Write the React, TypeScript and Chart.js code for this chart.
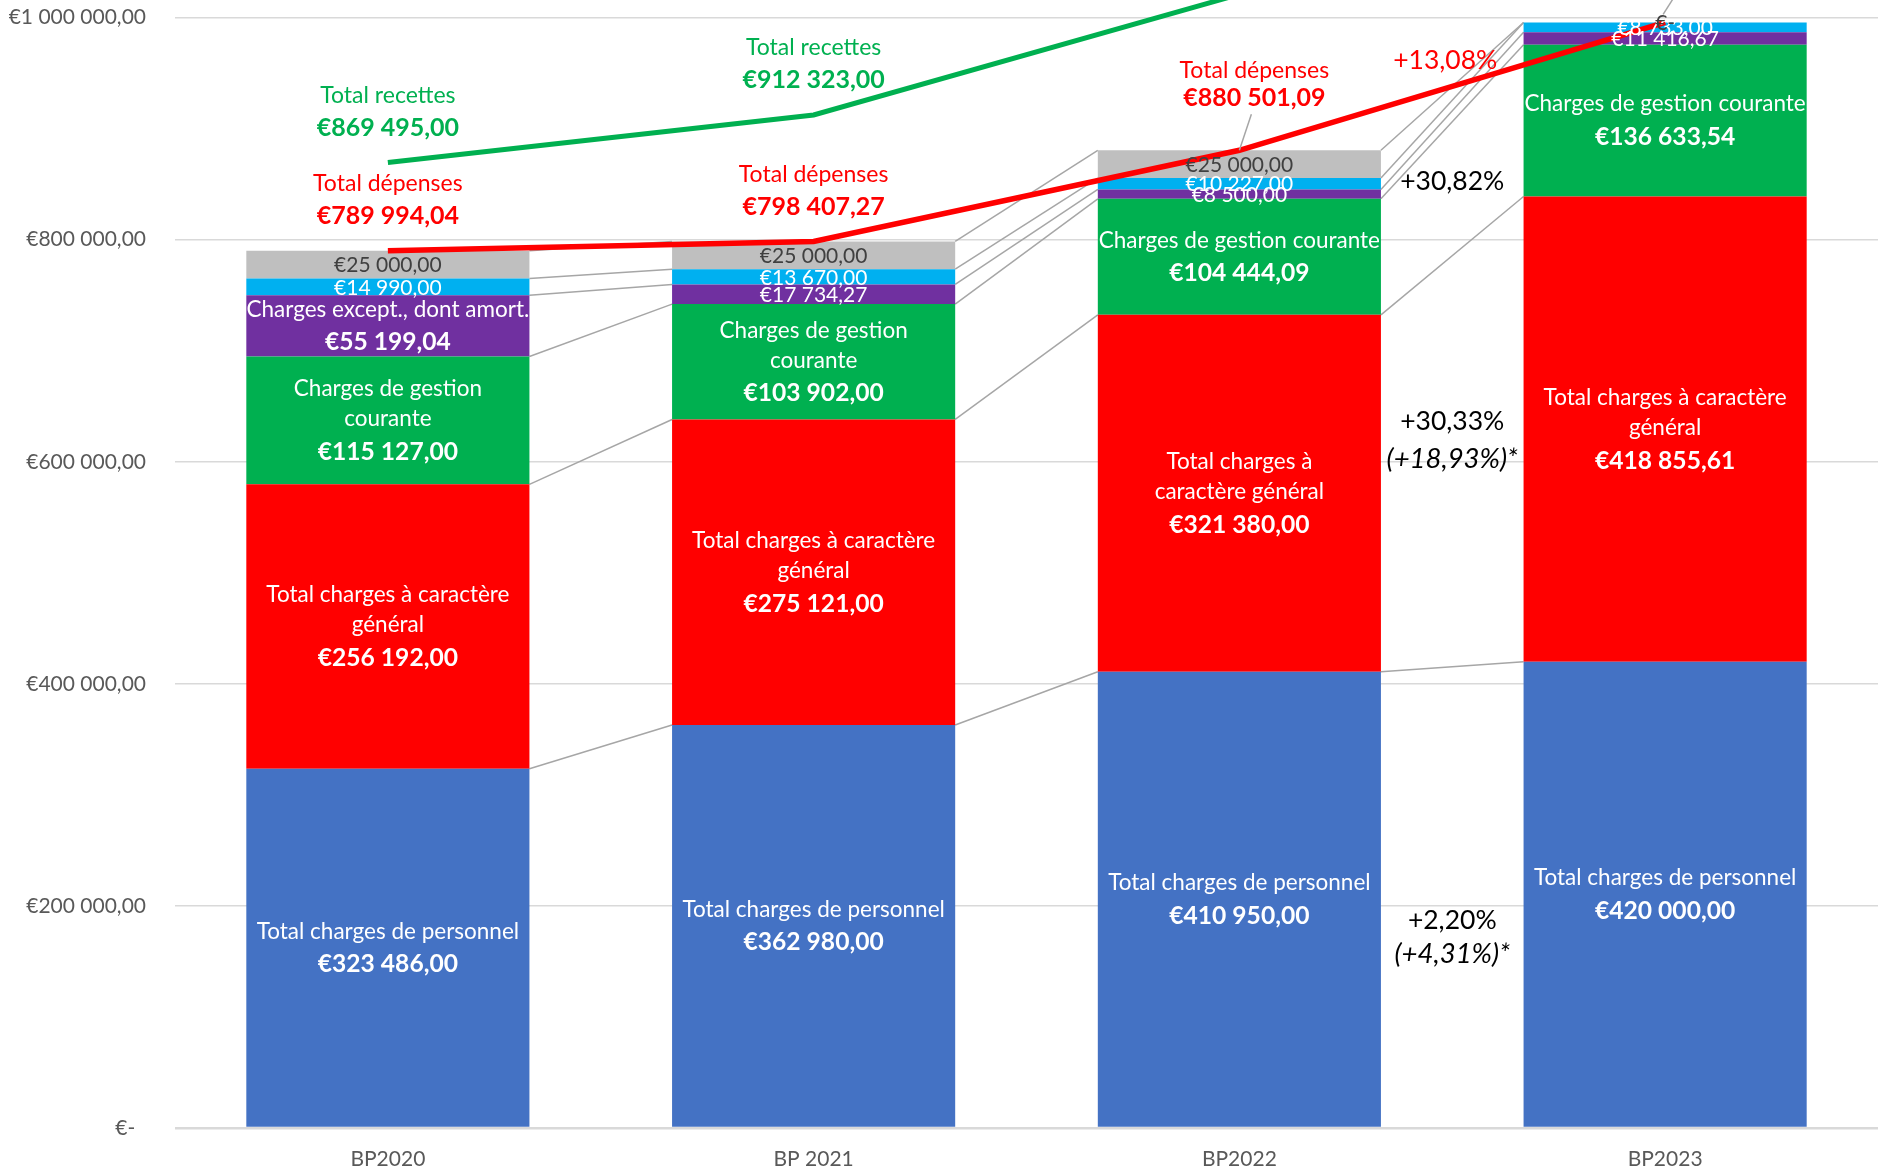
import React, { useEffect, useRef } from "react";
import { Chart, registerables } from "chart.js";

Chart.register(...registerables);

// ---------- DATA ----------
const categories = ["BP2020", "BP 2021", "BP2022", "BP2023"];

const chargesPersonnel = [323486.0, 362980.0, 410950.0, 420000.0];
const chargesCaractereGeneral = [256192.0, 275121.0, 321380.0, 418855.61];
const chargesGestionCourante = [115127.0, 103902.0, 104444.09, 136633.54];
const chargesExceptionnelles = [55199.04, 17734.27, 8500.0, 11416.67];
const autresCharges = [14990.0, 13670.0, 10227.0, 8733.0];
const reserves = [25000.0, 25000.0, 25000.0, 0];

const totalRecettes = [869495.0, 912323.0, 1021000.0, null];
const totalDepenses = [789994.04, 798407.27, 880501.09, 995638.82];

const yTickValues = [0, 200000, 400000, 600000, 800000, 1000000];

const personnelNames = [
  ["Total charges de personnel"],
  ["Total charges de personnel"],
  ["Total charges de personnel"],
  ["Total charges de personnel"],
];
const generalNames = [
  ["Total charges à caractère", "général"],
  ["Total charges à caractère", "général"],
  ["Total charges à", "caractère général"],
  ["Total charges à caractère", "général"],
];
const gestionNames = [
  ["Charges de gestion", "courante"],
  ["Charges de gestion", "courante"],
  ["Charges de gestion courante"],
  ["Charges de gestion courante"],
];
const exceptNames = [["Charges except., dont amort."], [], [], []];
const noNames = [[], [], [], []];

const recettesLabel = "Total recettes";
const depensesLabel = "Total dépenses";

const evolutionNotes = [
  { lines: ["+13,08%"], color: "#FF0000" },
  { lines: ["+30,82%"], color: "#000000" },
  { lines: ["+30,33%", "(+18,93%)*"], color: "#000000" },
  { lines: ["+2,20%", "(+4,31%)*"], color: "#000000" },
];

// ---------- HELPERS ----------
function fmtEuro(v: number): string {
  if (!v) return "€-";
  const [intPart, dec] = v.toFixed(2).split(".");
  const grouped = intPart.replace(/\B(?=(\d{3})+(?!\d))/g, " ");
  return "€" + grouped + "," + dec;
}

const FONT = "Lato, 'DejaVu Sans', sans-serif";
const NAME_FONT = `22.5px ${FONT}`;
const VALUE_FONT = `bold 24.6px ${FONT}`;
const SMALL_FONT = `21px ${FONT}`;
const NOTE_NAME_FONT = `23px ${FONT}`;
const NOTE_VALUE_FONT = `bold 25px ${FONT}`;

const barSeries = [
  { label: "Total charges de personnel", data: chargesPersonnel, color: "#4472C4", names: personnelNames, text: "#FFFFFF" },
  { label: "Total charges à caractère général", data: chargesCaractereGeneral, color: "#FF0000", names: generalNames, text: "#FFFFFF" },
  { label: "Charges de gestion courante", data: chargesGestionCourante, color: "#00B050", names: gestionNames, text: "#FFFFFF" },
  { label: "Charges except., dont amort.", data: chargesExceptionnelles, color: "#7030A0", names: exceptNames, text: "#FFFFFF" },
  { label: "Autres charges", data: autresCharges, color: "#00B0F0", names: noNames, text: "#FFFFFF" },
  { label: "Réserves", data: reserves, color: "#BFBFBF", names: noNames, text: "#404040" },
];

const seriesLinesPlugin = {
  id: "seriesLines",
  beforeDatasetsDraw(chart: any) {
    const ctx = chart.ctx;
    ctx.save();
    ctx.strokeStyle = "#A6A6A6";
    ctx.lineWidth = 1.5;
    for (let d = 0; d < barSeries.length; d++) {
      const meta = chart.getDatasetMeta(d);
      for (let i = 0; i < categories.length - 1; i++) {
        const a = meta.data[i].getProps(["x", "y", "width"], true);
        const b = meta.data[i + 1].getProps(["x", "y", "width"], true);
        ctx.beginPath();
        ctx.moveTo(a.x + a.width / 2, a.y);
        ctx.lineTo(b.x - b.width / 2, b.y);
        ctx.stroke();
      }
    }
    ctx.restore();
  },
};

const labelsPlugin = {
  id: "segmentLabels",
  afterDraw(chart: any) {
    const ctx = chart.ctx;
    const yScale = chart.scales.y;
    const xScale = chart.scales.x;
    ctx.save();
    ctx.textAlign = "center";
    ctx.textBaseline = "middle";

    // segment labels
    barSeries.forEach((s, d) => {
      const meta = chart.getDatasetMeta(d);
      meta.data.forEach((el: any, i: number) => {
        const p = el.getProps(["x", "y", "base"], true);
        const cy = (p.y + p.base) / 2;
        const names = s.names[i];
        const n = names.length;
        ctx.fillStyle = s.text;
        if (n === 0) {
          ctx.font = SMALL_FONT;
          ctx.fillText(fmtEuro(s.data[i]), p.x, cy + 1);
        } else {
          const span = (n - 1) * 30 + 33;
          const start = cy - span / 2;
          ctx.font = NAME_FONT;
          names.forEach((t: string, k: number) => ctx.fillText(t, p.x, start + k * 30));
          ctx.font = VALUE_FONT;
          ctx.fillText(fmtEuro(s.data[i]), p.x, start + (n - 1) * 30 + 33);
        }
      });
    });

    // leader for the "€-" label
    {
      const meta = chart.getDatasetMeta(5);
      const p = meta.data[3].getProps(["x", "y"], true);
      ctx.strokeStyle = "#A6A6A6";
      ctx.lineWidth = 1.5;
      ctx.beginPath();
      ctx.moveTo(p.x - 2, p.y - 8);
      ctx.lineTo(p.x + 12, p.y - 30);
      ctx.stroke();
    }

    // totals annotations
    const recMeta = chart.getDatasetMeta(6);
    const depMeta = chart.getDatasetMeta(7);
    [0, 1].forEach((i) => {
      const p = recMeta.data[i].getProps(["x", "y"], true);
      ctx.fillStyle = "#00B050";
      ctx.font = NOTE_NAME_FONT;
      ctx.fillText(recettesLabel, p.x, p.y - 67);
      ctx.font = NOTE_VALUE_FONT;
      ctx.fillText(fmtEuro(totalRecettes[i] as number), p.x, p.y - 35);
    });
    [0, 1].forEach((i) => {
      const p = depMeta.data[i].getProps(["x", "y"], true);
      ctx.fillStyle = "#FF0000";
      ctx.font = NOTE_NAME_FONT;
      ctx.fillText(depensesLabel, p.x, p.y - 67);
      ctx.font = NOTE_VALUE_FONT;
      ctx.fillText(fmtEuro(totalDepenses[i]), p.x, p.y - 35);
    });
    {
      const p = depMeta.data[2].getProps(["x", "y"], true);
      ctx.strokeStyle = "#A6A6A6";
      ctx.lineWidth = 1.5;
      ctx.beginPath();
      ctx.moveTo(p.x + 12, p.y - 36);
      ctx.lineTo(p.x, p.y);
      ctx.stroke();
      ctx.fillStyle = "#FF0000";
      ctx.font = NOTE_NAME_FONT;
      ctx.fillText(depensesLabel, p.x + 15, p.y - 80);
      ctx.font = NOTE_VALUE_FONT;
      ctx.fillText(fmtEuro(totalDepenses[2]), p.x + 15, p.y - 52);
    }

    // evolution notes between BP2022 and BP2023
    const nx = (xScale.getPixelForValue(2) + xScale.getPixelForValue(3)) / 2;
    const anchors = [961000, 852000, 636000, 187000];
    const spacing = [0, 0, 37, 34];
    const dx = [-7, 0, 0, 0];
    evolutionNotes.forEach((note, k) => {
      const y0 = yScale.getPixelForValue(anchors[k]);
      ctx.fillStyle = note.color;
      note.lines.forEach((t, j) => {
        ctx.font = j === 0 ? `26.5px ${FONT}` : `italic 27.5px ${FONT}`;
        ctx.fillText(t, nx + dx[k], y0 + j * spacing[k]);
      });
    });

    ctx.restore();
  },
};

export default function App() {
  const canvasRef = useRef<HTMLCanvasElement | null>(null);

  useEffect(() => {
    if (!canvasRef.current) return;
    const datasets: any[] = barSeries.map((s) => ({
      type: "bar",
      label: s.label,
      data: s.data,
      backgroundColor: s.color,
      borderWidth: 0,
      barPercentage: 0.665,
      categoryPercentage: 1,
      order: 1,
    }));
    datasets.push({
      type: "line",
      label: "Total recettes",
      data: totalRecettes,
      borderColor: "#00B050",
      borderWidth: 5,
      pointRadius: 0,
      stack: "recettes",
      order: 0,
      clip: false,
      tension: 0,
    });
    datasets.push({
      type: "line",
      label: "Total dépenses",
      data: totalDepenses,
      borderColor: "#FF0000",
      borderWidth: 5.5,
      pointRadius: 0,
      stack: "depenses",
      order: 0,
      clip: false,
      tension: 0,
    });

    const chart = new Chart(canvasRef.current, {
      type: "bar",
      data: { labels: categories, datasets },
      options: {
        animation: false,
        responsive: true,
        maintainAspectRatio: false,
        layout: { padding: { top: 17, right: 3, left: 0, bottom: 0 } },
        plugins: { legend: { display: false }, tooltip: { enabled: false } },
        scales: {
          x: {
            stacked: true,
            grid: { display: false, drawTicks: false },
            border: { display: false },
            ticks: { color: "#595959", font: { family: FONT, size: 21 }, padding: 19 },
            afterFit: (scale: any) => {
              scale.height = 43;
            },
          },
          y: {
            stacked: true,
            min: 0,
            max: 1000000,
            afterBuildTicks: (scale: any) => {
              scale.ticks = yTickValues.map((v) => ({ value: v }));
            },
            grid: {
              color: "#D9D9D9",
              lineWidth: (c: any) => (c.tick && c.tick.value === 0 ? 2.5 : 1.5),
              drawTicks: false,
            },
            border: { display: false },
            ticks: {
              color: "#595959",
              font: { family: FONT, size: 21 },
              padding: 29,
              callback: (v: any) => (Number(v) === 0 ? "€-  " : fmtEuro(Number(v))),
            },
            afterFit: (scale: any) => {
              scale.width = 175;
            },
          },
        },
      },
      plugins: [seriesLinesPlugin, labelsPlugin],
    });
    return () => chart.destroy();
  }, []);

  return (
    <div style={{ position: "fixed", left: 0, top: 0, width: 1881, height: 1171, overflow: "hidden", background: "#FFFFFF" }}>
      <div style={{ position: "absolute", left: 0, top: -24, width: 1881, height: 1195 }}>
        <canvas ref={canvasRef} />
      </div>
    </div>
  );
}
